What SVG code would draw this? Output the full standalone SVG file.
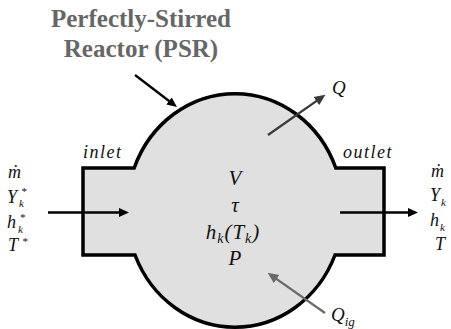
<svg xmlns="http://www.w3.org/2000/svg" width="451" height="329" viewBox="0 0 451 329">
<style>
.title{font-weight:bold;font-size:25px;fill:#666;text-anchor:middle}
.m{font-style:italic;fill:#111}
.s16{font-size:18px}
.s20{font-size:21px}
.sub{font-size:11px}
.sub14{font-size:14px}
.lbl{font-style:italic;font-size:18px;fill:#111}
.body{fill:#e0e0e0;stroke:#000;stroke-width:3.5;stroke-linejoin:miter}
.arr{fill:none;stroke-width:2.3}
</style>
<defs>
<marker id="hk" viewBox="0 0 10 10" refX="5" refY="5" markerWidth="10" markerHeight="10" markerUnits="userSpaceOnUse" orient="auto"><path d="M0,0.5 L10,5 L0,9.5 z" fill="#000"/></marker>
<marker id="hd" viewBox="0 0 10 10" refX="5" refY="5" markerWidth="11" markerHeight="11" markerUnits="userSpaceOnUse" orient="auto"><path d="M0,0.5 L10,5 L0,9.5 z" fill="#3a3a3a"/></marker>
<marker id="hg" viewBox="0 0 10 10" refX="5" refY="5" markerWidth="11" markerHeight="11" markerUnits="userSpaceOnUse" orient="auto"><path d="M0,0.5 L10,5 L0,9.5 z" fill="#6a6a6a"/></marker>
</defs>

<g id="title" font-family="Liberation Serif, Times New Roman, serif">
<text class="title" x="141" y="27">Perfectly-Stirred</text>
<text class="title" x="141" y="57">Reactor (PSR)</text>
</g>

<g id="reactor" font-family="Liberation Serif, Times New Roman, serif">
<path class="body" d="M134.2,168 A108 116 0 0 1 335.8,168 L384,168 L384,255 L335,255 A108 116 0 0 1 135,255 L83,255 L83,168 Z"/>
<text class="lbl" x="83" y="158" letter-spacing="1.5">inlet</text>
<text class="lbl" x="343" y="158" letter-spacing="1.5">outlet</text>
<g id="state">
<text class="m s20" x="235" y="185" text-anchor="middle">V</text>
<text class="m s20" x="235" y="212" text-anchor="middle">τ</text>
<text class="m s20" x="233" y="239" text-anchor="middle" letter-spacing="1">h<tspan class="sub14" dy="4">k</tspan><tspan dy="-4">(T</tspan><tspan class="sub14" dy="4">k</tspan><tspan dy="-4">)</tspan></text>
<text class="m s20" x="235" y="265" text-anchor="middle">P</text>
</g>
</g>

<g id="inflow" font-family="Liberation Serif, Times New Roman, serif">
<text class="m s16" x="8" y="178">ṁ</text>
<text class="m s16" x="7" y="203">Y</text><text class="m sub" x="19" y="207">k</text><text class="m sub" x="21" y="195">*</text>
<text class="m s16" x="7" y="228">h</text><text class="m sub" x="18" y="233">k</text><text class="m sub" x="19.5" y="220.5">*</text>
<text class="m s16" x="8" y="251">T</text><text class="m sub" x="22" y="245">*</text>
</g>

<g id="outflow" font-family="Liberation Serif, Times New Roman, serif">
<text class="m s16" x="431" y="177">ṁ</text>
<text class="m s16" x="430" y="201">Y</text><text class="m sub" x="441" y="206">k</text>
<text class="m s16" x="430" y="226">h</text><text class="m sub" x="440" y="231">k</text>
<text class="m s16" x="435" y="250">T</text>
</g>

<g id="heat-out" font-family="Liberation Serif, Times New Roman, serif">
<text class="m" style="font-size:19px" x="332" y="94">Q</text>
</g>
<g id="heat-ig" font-family="Liberation Serif, Times New Roman, serif">
<text class="m" style="font-size:19px" x="331" y="321">Q<tspan dy="5" style="font-size:13px">ig</tspan></text>
</g>

<g id="connectors">
<line class="arr" x1="48" y1="212.5" x2="124" y2="212.5" stroke="#000" marker-end="url(#hk)"/>
<line class="arr" x1="340" y1="212.5" x2="413" y2="212.5" stroke="#000" marker-end="url(#hk)"/>
<line class="arr" x1="135" y1="75" x2="173" y2="104" stroke="#000" stroke-width="2.6" marker-end="url(#hk)"/>
<line class="arr" x1="268" y1="135" x2="320.9" y2="97.9" stroke="#3a3a3a" stroke-width="2.6" marker-end="url(#hd)"/>
<line class="arr" x1="325" y1="313" x2="272.1" y2="275.9" stroke="#6a6a6a" stroke-width="2.6" marker-end="url(#hg)"/>
</g>
</svg>
